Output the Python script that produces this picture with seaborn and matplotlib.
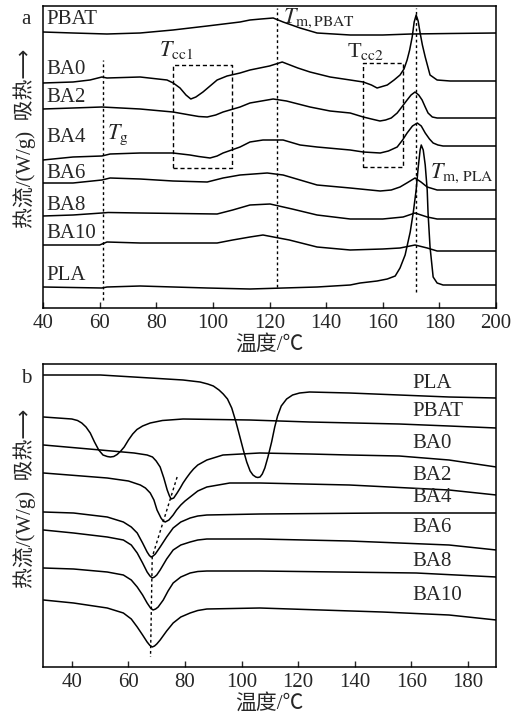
import matplotlib
matplotlib.use("Agg")
import matplotlib.pyplot as plt
import seaborn as sns

# ---- panel a: heating curves (temperature in C, heat flow offset in arbitrary units) ----
a_pbat_t = [40, 50.6, 62.6, 74.3, 85.9, 98, 109.6, 113.1, 117, 121.3, 124.8, 130.8, 136.8, 148.5, 160, 170, 183.8, 200]
a_pbat_v = [276, 275, 274, 275, 278, 282, 286, 288, 289, 290, 286, 280, 275, 273, 273, 274, 274.5, 275]

a_ba0_t = [40, 50.6, 56.6, 60.8, 62.6, 74.3, 83.8, 86, 88.4, 90.5, 92.2, 94, 96.5, 99, 101.5, 105, 109.6, 113.1,
           120, 124.5, 130, 134.3, 141.4, 148.5, 153.1, 156, 158, 161.6, 164, 166.1, 167.5, 168.6, 169.5, 170.4,
           171.1, 171.8, 172.5, 173.2, 174, 175, 176.7, 179.2, 183.8, 200]
a_ba0_v = [225, 226, 228, 231, 230, 231, 228, 225, 220, 213, 209, 211, 216, 222, 228, 232, 235, 238,
           242, 246, 240, 236, 231, 228, 226, 223, 220, 223, 228, 233, 239, 248, 258, 271,
           286, 293, 287, 275, 263, 251, 233, 228, 227, 227]

a_ba2_t = [40, 50.6, 60.8, 74.3, 85.9, 91.9, 95, 98, 101, 103.6, 109.6, 113.1, 121.3, 126, 134.3, 141.4, 148.5,
           153.1, 156, 159, 161, 163, 165.1, 167, 168.6, 170, 171.4, 172.7, 173.9, 175, 176, 177.5, 179.2, 200]
a_ba2_v = [199, 200, 201, 199, 196, 193, 191.5, 191, 193, 196, 201, 205, 209, 207, 201, 197, 195,
           191, 189, 187, 188, 190, 195, 202, 208, 213, 216, 213, 208, 201, 195, 191, 190, 190]

a_ba4_t = [40, 50.6, 60.8, 63.7, 74.3, 85.9, 91.9, 95, 99, 101.5, 103.6, 109.6, 113.1, 117.7, 124.8, 130.8,
           136.8, 148.5, 153.1, 159.1, 162, 165.1, 167, 168.6, 170.5, 172.2, 173.6, 175, 176.5, 177.8, 179.5,
           181.3, 200]
a_ba4_v = [148, 151, 152, 154, 155, 155, 153, 151.5, 150, 152, 155, 161, 166, 168, 168, 163,
           161, 158, 156, 155, 157, 161, 168, 175, 182, 185, 182, 175, 169, 165, 163, 162, 162]

a_ba6_t = [40, 50.6, 60.8, 63.7, 74.3, 85.9, 98, 103.6, 109.6, 119.2, 124.8, 130.8, 136.8, 148.5, 159.1, 163,
           166.1, 168.5, 171.4, 173.5, 175.7, 179.2, 200]
a_ba6_v = [125, 125, 128, 130, 129, 127, 126, 130, 133, 135, 133, 128, 123, 120, 117, 118,
           121, 125, 130, 126, 121, 118, 118]

a_ba8_t = [40, 50.6, 60.8, 63, 74.3, 101.5, 107, 113.1, 120.2, 128, 136.8, 148.5, 160, 167.2, 171.4, 175.7, 179.2, 200]
a_ba8_v = [92, 93, 95, 95.5, 95, 94, 98, 103, 104, 99, 93, 89, 89, 91, 95, 91, 89, 89]

a_ba10_t = [40, 60, 62.6, 74.3, 101.5, 107, 113.1, 117.7, 127, 136.8, 148.5, 160, 166.1, 171.4, 175.7, 179.2, 200]
a_ba10_v = [63, 63, 66, 65, 65, 68, 71, 73, 68, 61, 58, 59, 60, 63, 60, 57, 57]

a_pla_t = [40, 60.8, 62.6, 74.3, 98, 113.1, 136.8, 148.5, 152, 155, 158, 161.6, 164.4, 166.1, 167.9, 169.7,
           170.8, 171.8, 172.5, 173.2, 173.6, 174.3, 175, 175.7, 176, 176.7, 177.8, 179.2, 181.3, 200]
a_pla_v = [21, 20, 21, 22, 20, 19, 21, 23, 25, 26, 27, 29, 32, 40, 53, 76,
           96, 118, 140, 158, 163, 158, 143, 118, 95, 61, 31, 25, 23, 23]

a_names = ["PBAT", "BA0", "BA2", "BA4", "BA6", "BA8", "BA10", "PLA"]
a_label_v = [288, 239, 210, 170, 135, 103, 75, 33]

# ---- panel b: cooling curves ----
b_pla_t = [30, 50.1, 67.7, 79.3, 85.3, 88, 90, 92, 93.5, 95, 96.5, 98, 99.4, 100.6, 101.8, 103, 104, 105,
           105.7, 106.5, 107.3, 108.2, 109.3, 110.6, 111.7, 112.7, 114, 115.9, 118, 120.5, 124, 138.1,
           155.7, 173.3, 190]
b_pla_v = [292, 292, 289, 287, 285, 283, 281, 277, 273, 268, 259, 245, 230, 217, 205, 196, 192, 190,
           189.5, 190, 193, 199, 210, 225, 240, 251, 261, 268, 272, 274, 275, 274,
           272, 270, 269]

b_pbat_t = [30, 40, 42, 43.5, 45, 46.5, 48, 49.5, 51, 52.5, 53.6, 54.8, 56, 57.3, 58.5, 60, 61.5, 63, 65,
            67.7, 72, 79.3, 102.9, 124, 155.7, 173.3, 190]
b_pbat_v = [250, 248, 246.5, 244, 240, 234, 225, 217, 212, 210.5, 210, 210.5, 212.5, 216, 220, 227, 233,
            237.5, 241, 244, 246.5, 248, 247, 245, 243, 241, 239]

b_ba0_t = [30, 50.1, 62, 66.6, 68.5, 69.8, 71.2, 72.5, 73.7, 74.5, 75.1, 76, 77.2, 78.3, 79.3, 80.5, 81.8,
           83, 84.5, 87.7, 93.4, 106.4, 124, 138.1, 155.7, 173.3, 190]
b_ba0_v = [222, 217, 214, 212, 210, 206, 200, 189, 177, 171, 168, 169, 174, 179, 184, 189, 194,
           198, 202, 207, 212, 214, 213, 212, 211, 207, 200]

b_ba2_t = [30, 52.5, 60, 64.2, 66, 67.7, 69, 70.1, 71.5, 72.3, 73, 74.3, 75.8, 77, 78.5, 80, 81.8, 84.5,
           87.7, 95.8, 106.4, 138.1, 173.3, 190]
b_ba2_v = [194, 189, 186, 182, 179, 174, 167, 157, 149, 146, 145, 147, 152, 157, 162, 166, 170, 176,
           180, 184, 184, 182, 177, 172]

b_ba4_t = [30, 40.6, 52.5, 58.2, 61, 63.1, 65, 66.6, 67.4, 68, 68.7, 69.5, 71.2, 73.5, 75.8, 78.5, 81.8,
           84.5, 87.7, 106.4, 150, 190]
b_ba4_v = [155, 154, 150, 145, 140, 134, 124, 115, 111.5, 110, 111, 113, 120, 130, 139, 145, 149,
           151, 152, 153, 154, 154]

b_ba6_t = [30, 40.6, 52.5, 58.2, 61, 63.1, 65, 66.6, 67.6, 68.4, 69.2, 70, 71.2, 73.5, 75.8, 78.5, 81.8,
           84.5, 87.7, 106.4, 138.1, 173.3, 190]
b_ba6_v = [137, 134, 130, 127, 122, 114, 104, 95, 91, 89, 90, 92, 97, 108, 117, 122, 125,
           127, 128, 128, 126, 122, 117]

b_ba8_t = [30, 40.6, 52.5, 58.2, 61, 63.1, 65, 66.6, 67.8, 68.7, 69.6, 70.5, 72.3, 74, 75.8, 78.5, 81.8,
           84.5, 87.7, 106.4, 161.7, 190]
b_ba8_v = [99, 98, 95, 92, 87, 80, 72, 64, 59, 57, 58, 60, 67, 76, 84, 90, 94,
           95.5, 96, 96, 94, 90]

b_ba10_t = [30, 40.6, 52.5, 58.2, 61, 63.1, 65, 66.6, 67.6, 68.4, 69.2, 70, 71.2, 73.5, 75.8, 78.5, 81.8,
            84.5, 87.7, 106.4, 149.7, 173.3, 190]
b_ba10_v = [67, 64, 59, 54, 48, 40, 32, 25, 21.5, 20, 21, 23, 27, 36, 44, 50, 54,
            56.5, 58, 59, 55, 52, 47]

b_names = ["PLA", "PBAT", "BA0", "BA2", "BA4", "BA6", "BA8", "BA10"]
b_label_v = [284, 255, 224, 192, 169, 139, 105, 72]

# guide lines
a_vlines = [61.2, 122.7, 171.8]
a_vline_top = [248, 300, 300]
a_vline_bottom = [8, 21, 16]
b_guide_t = [77.2, 68.4, 67.8]
b_guide_v = [190, 110, 10]

sns.set_style("ticks")
plt.rcParams['font.family'] = ['Liberation Serif', 'Noto Sans CJK SC', 'DejaVu Sans']
plt.rcParams['mathtext.fontset'] = 'stix'
plt.rcParams['xtick.direction'] = 'in'

fig = plt.figure(figsize=(5.19, 7.17), dpi=100)
ax_a = fig.add_axes([43 / 519, 1 - 308 / 717, 453 / 519, 302 / 717])
ax_b = fig.add_axes([43 / 519, 1 - 667 / 717, 453 / 519, 303 / 717])

a_curves = [(a_pbat_t, a_pbat_v), (a_ba0_t, a_ba0_v), (a_ba2_t, a_ba2_v), (a_ba4_t, a_ba4_v),
            (a_ba6_t, a_ba6_v), (a_ba8_t, a_ba8_v), (a_ba10_t, a_ba10_v), (a_pla_t, a_pla_v)]
for t, v in a_curves:
    sns.lineplot(x=t, y=v, ax=ax_a, color='black', lw=1.1, estimator=None, sort=False)

for name, lv in zip(a_names, a_label_v):
    ax_a.text(41.2, lv, name, fontsize=15, va='center', ha='left')

for xv, top, bot in zip(a_vlines, a_vline_top, a_vline_bottom):
    ax_a.plot([xv, xv], [bot, top], color='black', ls=(0, (2, 2)), lw=1)

# dashed boxes around the cold crystallisation regions
for x0, x1, y0, y1 in [(85.9, 106.8, 140, 243), (153.1, 167.2, 141, 245)]:
    ax_a.plot([x0, x1, x1, x0, x0], [y0, y0, y1, y1, y0], color='black', ls=(0, (3, 2)), lw=1)

ax_a.text(87, 258, r'$T_{\rm cc1}$', fontsize=16, ha='center', va='center')
ax_a.text(137.5, 290, r'$T_{\rm m,PBAT}$', fontsize=16, ha='center', va='center')
ax_a.text(154, 256, r'T$_{\rm cc2}$', fontsize=16, ha='center', va='center')
ax_a.text(66.5, 173, r'$T_{\rm g}$', fontsize=16, ha='center', va='center')
ax_a.text(188, 135, r'$T_{\rm m,\,PLA}$', fontsize=16, ha='center', va='center')

ax_a.set_xlim(40, 200)
ax_a.set_ylim(0, 302)
ax_a.set_xticks(range(40, 201, 20))
ax_a.set_yticks([])
ax_a.set_xlabel('温度/℃', fontsize=15, labelpad=2)
ax_a.set_ylabel('')

b_curves = [(b_pla_t, b_pla_v), (b_pbat_t, b_pbat_v), (b_ba0_t, b_ba0_v), (b_ba2_t, b_ba2_v),
            (b_ba4_t, b_ba4_v), (b_ba6_t, b_ba6_v), (b_ba8_t, b_ba8_v), (b_ba10_t, b_ba10_v)]
for t, v in b_curves:
    sns.lineplot(x=t, y=v, ax=ax_b, color='black', lw=1.1, estimator=None, sort=False)

for name, lv in zip(b_names, b_label_v):
    ax_b.text(160.3, lv, name, fontsize=15, va='center', ha='left')

ax_b.plot(b_guide_t, b_guide_v, color='black', ls=(0, (2, 2)), lw=1)

ax_b.set_xlim(29.8, 189.9)
ax_b.set_ylim(0, 303)
ax_b.set_xticks(range(40, 181, 20))
ax_b.set_yticks([])
ax_b.set_xlabel('温度/℃', fontsize=15, labelpad=2)
ax_b.set_ylabel('')

for ax in (ax_a, ax_b):
    ax.tick_params(axis='x', length=4, width=1, labelsize=15, pad=4, top=False)
    for s in ax.spines.values():
        s.set_visible(True)
        s.set_linewidth(1.1)
        s.set_color('black')

fig.text(26 / 519, 1 - 19 / 717, 'a', fontsize=15, ha='center', va='center')
fig.text(26 / 519, 1 - 378 / 717, 'b', fontsize=15, ha='center', va='center')
fig.text(25 / 519, 1 - 138 / 717, '热流/(W/g)  吸热⟶', fontsize=15, rotation=90, ha='center', va='center')
fig.text(25 / 519, 1 - 498 / 717, '热流/(W/g)  吸热⟶', fontsize=15, rotation=90, ha='center', va='center')

fig.savefig('out.png', dpi=100)
